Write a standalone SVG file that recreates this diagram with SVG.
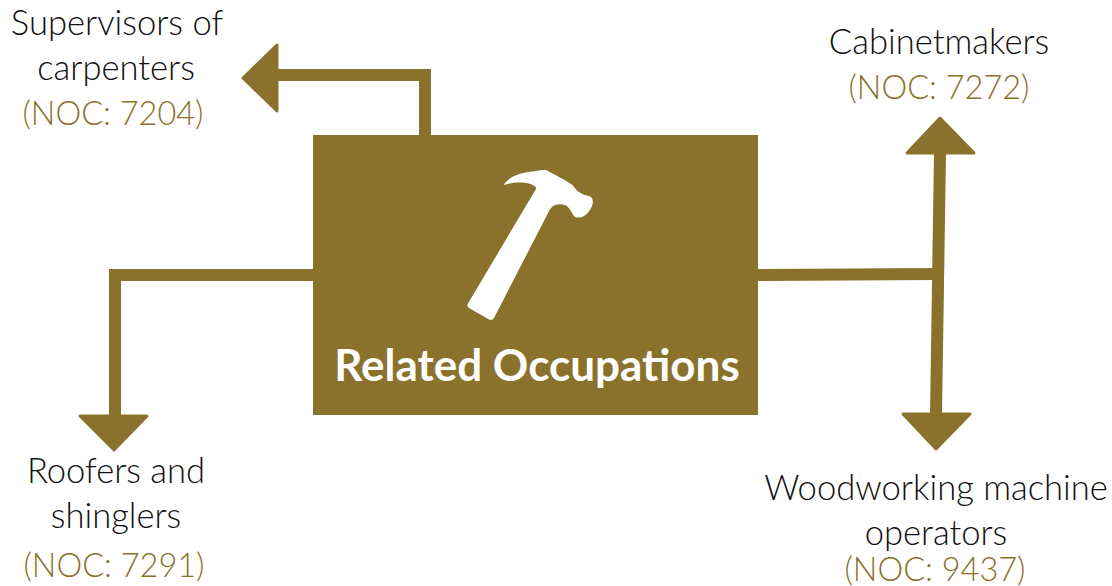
<svg xmlns="http://www.w3.org/2000/svg" width="1112" height="586" viewBox="0 0 1112 586">
<style>
.t{font-family:Lato,"Open Sans","Liberation Sans",sans-serif;font-weight:300;font-size:34.6px;text-anchor:middle;fill:#111}
.k{font-family:Lato,"Open Sans","Liberation Sans",sans-serif;font-weight:300;font-size:32.500px;text-anchor:middle;fill:#8a722c}
.n{fill:#8a722c}
.c{fill:none;stroke:#8a722c;stroke-width:12}
.h{fill:#8a722c;stroke:#8a722c;stroke-width:3;stroke-linejoin:round}
</style>
<rect width="1112" height="586" fill="#fff"/>
<g id="connectors">
<path class="c" d="M425 135V75H276"/>
<polygon class="h" points="243,78 277,45 277,111"/>
<path class="c" d="M314 275H115V416"/>
<polygon class="h" points="80,416 147,416 114,450"/>
<path class="c" d="M758 275L937 274"/>
<path class="c" d="M940 153L936 415"/>
<polygon class="h" points="907,153 974,153 940,118"/>
<polygon class="h" points="903,414 970,414 936,449"/>
</g>
<g id="related-occupations">
<rect class="n" x="313" y="135" width="445" height="280"/>
<path fill="#fff" d="M503.500 185C509 176 523 172 533 171.500C539 170.500 545 169.500 547 170.500C555 175 566 180 573 185.500C576 190 580 194 587 195.500C591 196.500 593 198 592.800 202C592.500 207 589 213 584 216C580 218 576 218 574 216C571 212 570 208 566 205.500C561 203.500 555 204 552 207C550 209 549 211 547 215L494 318C493 320 491 320.500 489 319.500L469 308C467.500 307 467 305 468 303.500L533 194C536 190 537 188 535 186.500C530 182 516 181 503.500 185Z"/>
<text x="537" y="381" style="font-family:Lato,'Open Sans',sans-serif;font-weight:700;font-size:44px;text-anchor:middle;fill:#fff">Related Occupations</text>
</g>
<g id="supervisors">
<text class="t" x="117" y="35">Supervisors of</text>
<text class="t" x="116" y="80">carpenters</text>
<text class="k" x="113" y="125">(NOC: 7204)</text>
</g>
<g id="cabinetmakers">
<text class="t" x="939" y="54">Cabinetmakers</text>
<text class="k" x="939" y="99">(NOC: 7272)</text>
</g>
<g id="roofers">
<text class="t" x="116" y="483">Roofers and</text>
<text class="t" x="116" y="528">shinglers</text>
<text class="k" x="114" y="577">(NOC: 7291)</text>
</g>
<g id="woodworking">
<text class="t" x="936" y="500">Woodworking machine</text>
<text class="t" x="936" y="545">operators</text>
<text class="k" x="935" y="581">(NOC: 9437)</text>
</g>
</svg>
